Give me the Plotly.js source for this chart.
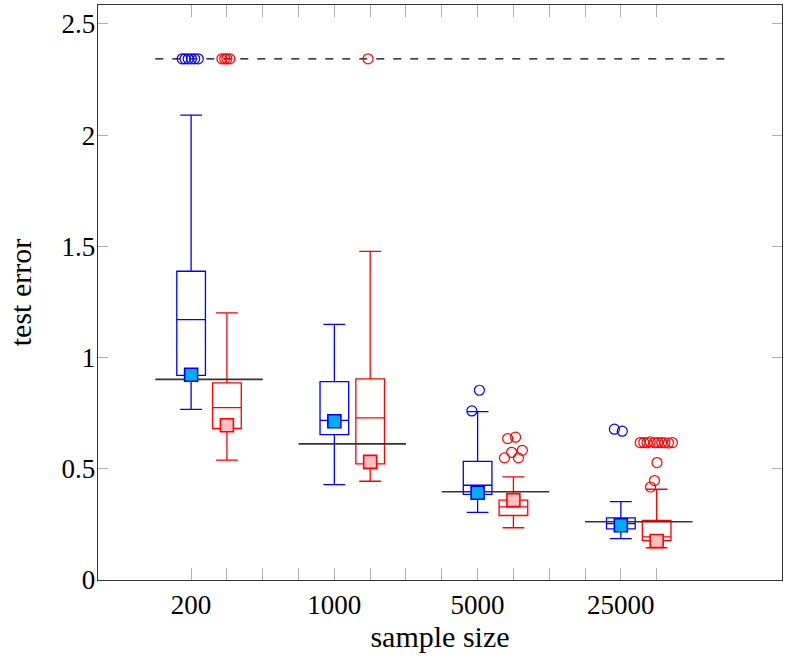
<!DOCTYPE html>
<html>
<head>
<meta charset="utf-8">
<script src="https://cdn.plot.ly/plotly-3.0.1.min.js"></script>
<style>html,body{margin:0;padding:0;background:#fff;}#chart{width:790px;height:668px;}</style>
</head>
<body>
<div id="chart"></div>
<script>
// ---- data ----
const groups = ['200', '1000', '5000', '25000'];

const blueQ1     = [0.920, 0.654, 0.385, 0.230];
const blueMedian = [1.171, 0.718, 0.426, 0.253];
const blueQ3     = [1.388, 0.892, 0.533, 0.279];
const blueLow    = [0.767, 0.429, 0.304, 0.186];
const blueHigh   = [2.090, 1.149, 0.757, 0.352];
const blueMean   = [0.923, 0.714, 0.392, 0.246];

const redQ1     = [0.681, 0.522, 0.290, 0.177];
const redMedian = [0.775, 0.729, 0.329, 0.194];
const redQ3     = [0.886, 0.904, 0.359, 0.268];
const redLow    = [0.539, 0.444, 0.235, 0.145];
const redHigh   = [1.201, 1.477, 0.464, 0.408];
const redMean   = [0.696, 0.531, 0.359, 0.175];

const referenceError = [0.902, 0.612, 0.397, 0.262];
const divergedError = 2.343;

const blueOutGroup  = [0, 0, 0, 0, 0, 0, 2, 2, 3, 3];
const blueOutValue  = [2.343, 2.343, 2.343, 2.343, 2.343, 2.343, 0.853, 0.760, 0.678, 0.669];
const blueOutJitter = [-0.25, -0.17, -0.08, 0.01, 0.10, 0.20, 0.05, -0.16, -0.18, 0.04];

const redOutGroup  = [0, 0, 0, 0, 1, 2, 2, 2, 2, 2, 2, 3, 3, 3, 3, 3, 3, 3, 3, 3, 3, 3, 3, 3];
const redOutValue  = [2.343, 2.343, 2.343, 2.343, 2.343,
                      0.636, 0.642, 0.574, 0.583, 0.549, 0.549,
                      0.618, 0.618, 0.617, 0.621, 0.617, 0.618, 0.618, 0.617, 0.616, 0.618,
                      0.528, 0.447, 0.418];
const redOutJitter = [-0.14, -0.06, 0.0, 0.08, -0.06,
                      -0.16, 0.06, -0.05, 0.25, -0.25, 0.14,
                      -0.46, -0.36, -0.27, -0.18, -0.06, 0.03, 0.14, 0.23, 0.33, 0.44,
                      0.01, -0.06, -0.17];

// ---- positions ----
const groupStep = 4;
const bluePos = groups.map((g, i) => i * groupStep + 1);
const redPos = groups.map((g, i) => i * groupStep + 2);

const BLUE = '#0000ff', RED = '#ff0000';
const FONT = 'Liberation Serif, Times New Roman, serif';

function boxTrace(pos, q1, med, q3, lo, hi, color) {
  return {
    type: 'box', x: pos, q1: q1, median: med, q3: q3,
    lowerfence: lo, upperfence: hi, boxpoints: false,
    width: 0.8, whiskerwidth: 0.76,
    line: {color: color, width: 1.3},
    fillcolor: 'rgba(0,0,0,0)', hoverinfo: 'skip', showlegend: false
  };
}

// reference segments
const refX = [], refY = [];
bluePos.forEach((p, i) => {
  refX.push(p - 1, p + 2, null);
  refY.push(referenceError[i], referenceError[i], null);
});

const traces = [
  {type: 'scatter', mode: 'lines', x: [0, 16], y: [divergedError, divergedError],
   line: {color: '#000', width: 1.2, dash: '8px,9px'}, showlegend: false, hoverinfo: 'skip'},
  boxTrace(bluePos, blueQ1, blueMedian, blueQ3, blueLow, blueHigh, BLUE),
  boxTrace(redPos, redQ1, redMedian, redQ3, redLow, redHigh, RED),
  {type: 'scatter', mode: 'lines', x: refX, y: refY, connectgaps: false,
   line: {color: '#333', width: 1.6}, showlegend: false, hoverinfo: 'skip'},
  {type: 'scatter', mode: 'markers', x: bluePos, y: blueMean,
   marker: {symbol: 'square', size: 13, color: '#00aeef', line: {color: BLUE, width: 1.6}},
   showlegend: false},
  {type: 'scatter', mode: 'markers', x: redPos, y: redMean,
   marker: {symbol: 'square', size: 13, color: '#ffc0c0', line: {color: RED, width: 1.6}},
   showlegend: false},
  {type: 'scatter', mode: 'markers',
   x: blueOutGroup.map((g, i) => bluePos[g] + blueOutJitter[i]), y: blueOutValue,
   marker: {symbol: 'circle-open', size: 10, color: BLUE, line: {width: 1.2}}, showlegend: false},
  {type: 'scatter', mode: 'markers',
   x: redOutGroup.map((g, i) => redPos[g] + redOutJitter[i]), y: redOutValue,
   marker: {symbol: 'circle-open', size: 10, color: RED, line: {width: 1.2}}, showlegend: false}
];

const tickVals = [];
const tickText = [];
for (let p = 1; p <= groups.length * groupStep - 2; p++) {
  tickVals.push(p);
  const gi = bluePos.indexOf(p);
  tickText.push(gi >= 0 ? groups[gi] : '');
}

const yTickVals = [0, 0.5, 1, 1.5, 2, 2.5];
const yTickText = ['0', '0.5', '1', '1.5', '2', '2.5'];

const layout = {
  width: 790, height: 668,
  margin: {l: 98, r: 8, t: 5, b: 88},
  paper_bgcolor: '#fff', plot_bgcolor: '#fff',
  boxmode: 'overlay',
  showlegend: false,
  font: {family: FONT, size: 27, color: '#000'},
  xaxis: {
    range: [-1.6, 17.5], tickmode: 'array', tickvals: tickVals, ticktext: tickText,
    ticks: 'inside', ticklen: 12, tickwidth: 1, tickcolor: '#b0b0b0',
    showline: true, linecolor: '#333', linewidth: 1.3, mirror: 'ticks',
    showgrid: false, zeroline: false,
    tickfont: {family: FONT, size: 27, color: '#000'},
    title: {text: 'sample size', font: {family: FONT, size: 30, color: '#000'}, standoff: 6}
  },
  yaxis: {
    range: [0, 2.585], tickmode: 'array', tickvals: yTickVals, ticktext: yTickText,
    ticks: 'inside', ticklen: 10, tickwidth: 1, tickcolor: '#b0b0b0',
    showline: true, linecolor: '#333', linewidth: 1.3, mirror: 'ticks',
    showgrid: false, zeroline: false, ticklabelstandoff: -4,
    tickfont: {family: FONT, size: 27, color: '#000'},
    title: {text: 'test error', font: {family: FONT, size: 30, color: '#000'}, standoff: 21}
  }
};

Plotly.newPlot('chart', traces, layout, {displayModeBar: false, staticPlot: true});
</script>
</body>
</html>
